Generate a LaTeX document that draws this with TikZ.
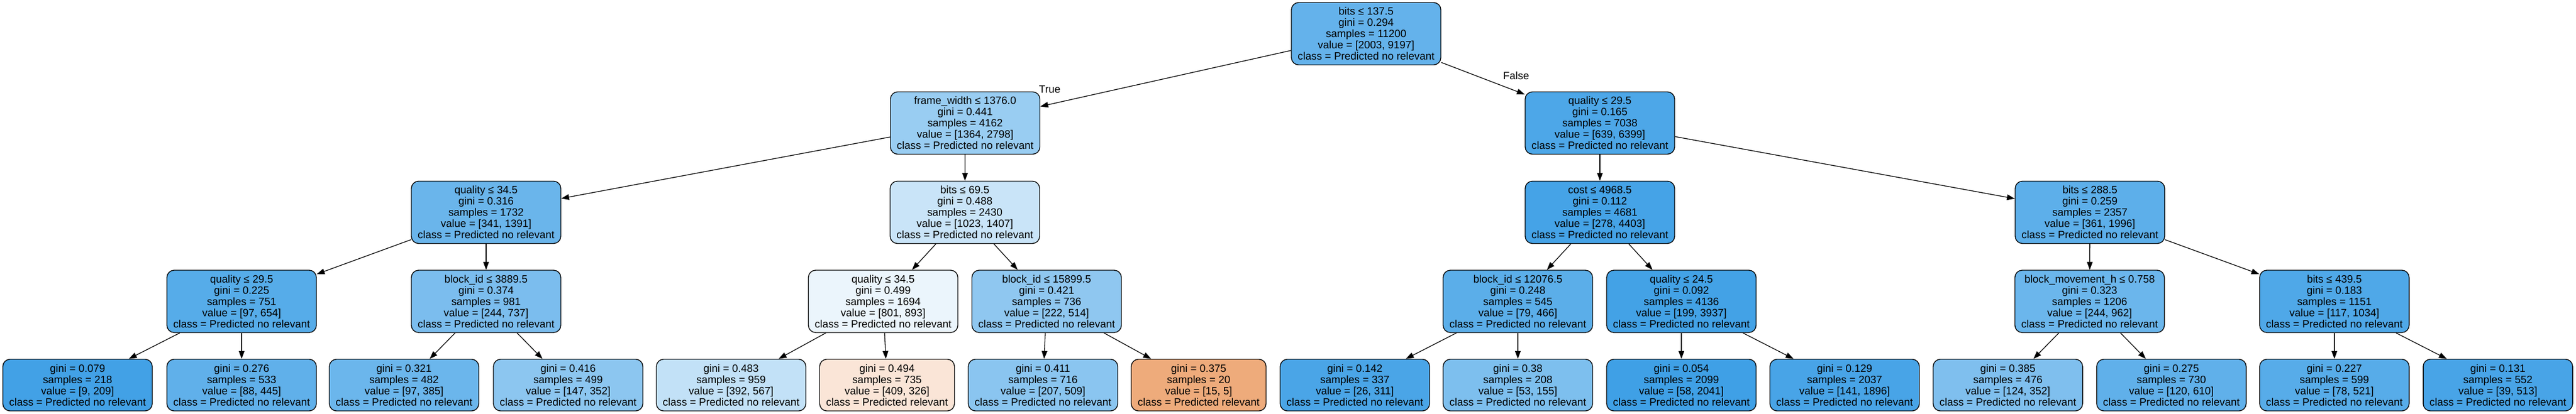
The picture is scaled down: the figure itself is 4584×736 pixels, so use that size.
\documentclass[tikz,border=0pt]{standalone}
\usepackage{fontspec}
\newfontfamily\treefont{Liberation Sans}
\usetikzlibrary{arrows.meta}
\definecolor{cblue}{RGB}{57,157,229}
\definecolor{corange}{RGB}{229,129,57}
\tikzset{
  tn/.style={draw=black, line width=1.4pt, rounded corners=13pt, minimum width=266pt,
    minimum height=111pt, inner sep=0pt, align=center,
    font=\treefont\fontsize{18.9}{20}\selectfont},
  lf/.style={tn, minimum height=92pt},
  lfr/.style={lf, minimum width=240pt},
  ed/.style={-{Triangle[length=14pt,width=10pt]}, line width=1.3pt},
  elab/.style={inner sep=0pt, font=\treefont\fontsize{18.9}{20}\selectfont},
}
\begin{document}
\begin{tikzpicture}[x=1pt,y=-1pt]
\fill[white] (0,0) rectangle (4584,736);
\useasboundingbox (0,0) rectangle (4584,736);
% level 0
\node[tn, fill=cblue!78.2!white] (n0) at (2431,60) {bits ≤ 137.5\\gini = 0.294\\samples = 11200\\value = [2003, 9197]\\class = Predicted no relevant};
% level 1
\node[tn, fill=cblue!51.3!white] (n1) at (1717.5,219) {frame\_width ≤ 1376.0\\gini = 0.441\\samples = 4162\\value = [1364, 2798]\\class = Predicted no relevant};
\node[tn, fill=cblue!90.0!white] (n2) at (2847,219) {quality ≤ 29.5\\gini = 0.165\\samples = 7038\\value = [639, 6399]\\class = Predicted no relevant};
% level 2
\node[tn, fill=cblue!75.5!white] (n3) at (865,378) {quality ≤ 34.5\\gini = 0.316\\samples = 1732\\value = [341, 1391]\\class = Predicted no relevant};
\node[tn, fill=cblue!27.3!white] (n4) at (1717,378) {bits ≤ 69.5\\gini = 0.488\\samples = 2430\\value = [1023, 1407]\\class = Predicted no relevant};
\node[tn, fill=cblue!93.7!white] (n5) at (2847,378) {cost ≤ 4968.5\\gini = 0.112\\samples = 4681\\value = [278, 4403]\\class = Predicted no relevant};
\node[tn, fill=cblue!81.9!white] (n6) at (3719,378) {bits ≤ 288.5\\gini = 0.259\\samples = 2357\\value = [361, 1996]\\class = Predicted no relevant};
% level 3
\node[tn, fill=cblue!85.2!white] (n7) at (430,536.5) {quality ≤ 29.5\\gini = 0.225\\samples = 751\\value = [97, 654]\\class = Predicted no relevant};
\node[tn, fill=cblue!66.9!white] (n8) at (865,536.5) {block\_id ≤ 3889.5\\gini = 0.374\\samples = 981\\value = [244, 737]\\class = Predicted no relevant};
\node[tn, fill=cblue!10.3!white] (n9) at (1571.5,536.5) {quality ≤ 34.5\\gini = 0.499\\samples = 1694\\value = [801, 893]\\class = Predicted no relevant};
\node[tn, fill=cblue!56.8!white] (n10) at (1862.5,536.5) {block\_id ≤ 15899.5\\gini = 0.421\\samples = 736\\value = [222, 514]\\class = Predicted no relevant};
\node[tn, fill=cblue!83.0!white] (n11) at (2701,536.5) {block\_id ≤ 12076.5\\gini = 0.248\\samples = 545\\value = [79, 466]\\class = Predicted no relevant};
\node[tn, fill=cblue!94.9!white] (n12) at (2992,536.5) {quality ≤ 24.5\\gini = 0.092\\samples = 4136\\value = [199, 3937]\\class = Predicted no relevant};
\node[tn, fill=cblue!74.6!white] (n13) at (3718.5,536.5) {block\_movement\_h ≤ 0.758\\gini = 0.323\\samples = 1206\\value = [244, 962]\\class = Predicted no relevant};
\node[tn, fill=cblue!88.7!white] (n14) at (4154,536.5) {bits ≤ 439.5\\gini = 0.183\\samples = 1151\\value = [117, 1034]\\class = Predicted no relevant};
% leaves
\node[lf, fill=cblue!95.7!white] (l0) at (138,685.5) {gini = 0.079\\samples = 218\\value = [9, 209]\\class = Predicted no relevant};
\node[lf, fill=cblue!80.2!white] (l1) at (430,685.5) {gini = 0.276\\samples = 533\\value = [88, 445]\\class = Predicted no relevant};
\node[lf, fill=cblue!74.8!white] (l2) at (719,685.5) {gini = 0.321\\samples = 482\\value = [97, 385]\\class = Predicted no relevant};
\node[lf, fill=cblue!58.2!white] (l3) at (1011,685.5) {gini = 0.416\\samples = 499\\value = [147, 352]\\class = Predicted no relevant};
\node[lf, fill=cblue!30.9!white] (l4) at (1301,685.5) {gini = 0.483\\samples = 959\\value = [392, 567]\\class = Predicted no relevant};
\node[lfr, fill=corange!20.3!white] (l5) at (1578.5,685.5) {gini = 0.494\\samples = 735\\value = [409, 326]\\class = Predicted relevant};
\node[lf, fill=cblue!59.3!white] (l6) at (1856,685.5) {gini = 0.411\\samples = 716\\value = [207, 509]\\class = Predicted no relevant};
\node[lfr, fill=corange!66.7!white] (l7) at (2133,685.5) {gini = 0.375\\samples = 20\\value = [15, 5]\\class = Predicted relevant};
\node[lf, fill=cblue!91.6!white] (l8) at (2411,685.5) {gini = 0.142\\samples = 337\\value = [26, 311]\\class = Predicted no relevant};
\node[lf, fill=cblue!65.8!white] (l9) at (2701,685.5) {gini = 0.38\\samples = 208\\value = [53, 155]\\class = Predicted no relevant};
\node[lf, fill=cblue!97.2!white] (l10) at (2992,685.5) {gini = 0.054\\samples = 2099\\value = [58, 2041]\\class = Predicted no relevant};
\node[lf, fill=cblue!92.6!white] (l11) at (3282.5,685.5) {gini = 0.129\\samples = 2037\\value = [141, 1896]\\class = Predicted no relevant};
\node[lf, fill=cblue!64.8!white] (l12) at (3573,685.5) {gini = 0.385\\samples = 476\\value = [124, 352]\\class = Predicted no relevant};
\node[lf, fill=cblue!80.3!white] (l13) at (3864,685.5) {gini = 0.275\\samples = 730\\value = [120, 610]\\class = Predicted no relevant};
\node[lf, fill=cblue!85.0!white] (l14) at (4154,685.5) {gini = 0.227\\samples = 599\\value = [78, 521]\\class = Predicted no relevant};
\node[lf, fill=cblue!92.4!white] (l15) at (4445,685.5) {gini = 0.131\\samples = 552\\value = [39, 513]\\class = Predicted no relevant};
% edges
\foreach \a/\b in {n0/n1,n0/n2,n1/n3,n1/n4,n2/n5,n2/n6,n3/n7,n3/n8,n4/n9,n4/n10,
  n5/n11,n5/n12,n6/n13,n6/n14,n7/l0,n7/l1,n8/l2,n8/l3,n9/l4,n9/l5,n10/l6,n10/l7,
  n11/l8,n11/l9,n12/l10,n12/l11,n13/l12,n13/l13,n14/l14,n14/l15}
  \draw[ed] (\a) -- (\b);
% edge labels
\node[elab] (ltrue) at (1868,159) {True};
\node[elab] (lfalse) at (2698,135) {False};
\end{tikzpicture}
\end{document}
